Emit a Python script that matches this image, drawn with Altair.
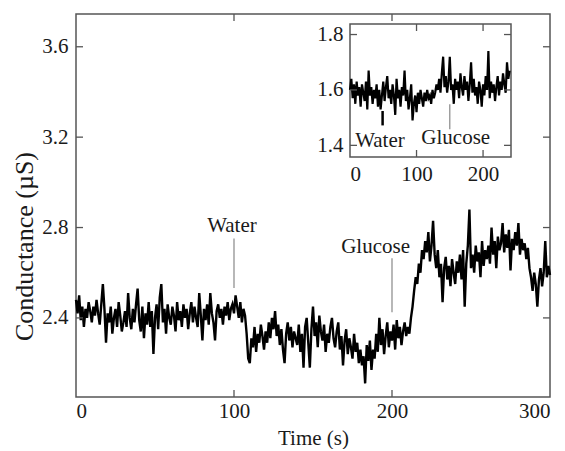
import altair as alt
import pandas as pd

# ---------------- data ----------------
main_cond = [
    2.48, 2.42, 2.50, 2.39, 2.45, 2.36, 2.44, 2.40, 2.47, 2.43,
    2.38, 2.45, 2.41, 2.48, 2.42, 2.37, 2.46, 2.55, 2.44, 2.29,
    2.42, 2.38, 2.45, 2.33, 2.40, 2.44, 2.36, 2.47, 2.41, 2.34,
    2.38, 2.43, 2.36, 2.51, 2.40, 2.35, 2.44, 2.38, 2.46, 2.53,
    2.39, 2.34, 2.45, 2.31, 2.42, 2.37, 2.47, 2.36, 2.43, 2.24,
    2.40, 2.46, 2.35, 2.49, 2.55, 2.38, 2.44, 2.33, 2.46, 2.40,
    2.37, 2.45, 2.41, 2.34, 2.47, 2.39, 2.43, 2.36, 2.46, 2.40,
    2.44, 2.35, 2.42, 2.47, 2.38, 2.45, 2.40, 2.36, 2.51, 2.41,
    2.30, 2.44, 2.39, 2.46, 2.37, 2.51, 2.42, 2.38, 2.30, 2.43,
    2.46, 2.40, 2.44, 2.37, 2.45, 2.41, 2.47, 2.39, 2.44, 2.46,
    2.42, 2.50, 2.45, 2.40, 2.47, 2.38, 2.44, 2.41, 2.33, 2.22,
    2.20, 2.31, 2.27, 2.36, 2.25, 2.33, 2.29, 2.37, 2.32, 2.26,
    2.34, 2.29, 2.38, 2.31, 2.40, 2.35, 2.43, 2.32, 2.37, 2.28,
    2.35, 2.26, 2.20, 2.33, 2.38, 2.30, 2.36, 2.27, 2.34, 2.31,
    2.28, 2.37, 2.25, 2.33, 2.18, 2.36, 2.40, 2.29, 2.18, 2.35,
    2.45, 2.32, 2.38, 2.27, 2.41, 2.34, 2.30, 2.37, 2.25, 2.33,
    2.29, 2.36, 2.40, 2.31, 2.27, 2.34, 2.38, 2.26, 2.32, 2.19,
    2.30, 2.35, 2.24, 2.31, 2.27, 2.22, 2.33, 2.25, 2.29, 2.20,
    2.26, 2.19, 2.23, 2.11, 2.28, 2.21, 2.30, 2.17, 2.26, 2.22,
    2.33, 2.25, 2.40, 2.28, 2.35, 2.24, 2.32, 2.38, 2.27, 2.34,
    2.30, 2.37, 2.26, 2.39, 2.31, 2.36, 2.28, 2.34, 2.38, 2.32,
    2.36, 2.33, 2.40, 2.45, 2.52, 2.58, 2.55, 2.64, 2.60, 2.70,
    2.66, 2.74, 2.69, 2.78, 2.65, 2.72, 2.83, 2.68, 2.62, 2.70,
    2.58, 2.64, 2.47, 2.62, 2.67, 2.57, 2.63, 2.54, 2.66, 2.60,
    2.55, 2.65, 2.60, 2.68, 2.57, 2.70, 2.45, 2.64, 2.72, 2.88,
    2.62, 2.68, 2.60, 2.72, 2.65, 2.69, 2.58, 2.74, 2.63, 2.70,
    2.66, 2.72, 2.64, 2.80, 2.68, 2.74, 2.62, 2.76, 2.70, 2.73,
    2.82, 2.69, 2.77, 2.71, 2.79, 2.61, 2.75, 2.70, 2.78, 2.72,
    2.82, 2.68, 2.75, 2.70, 2.73, 2.66, 2.71, 2.62, 2.58, 2.52,
    2.60, 2.55, 2.45, 2.57, 2.62, 2.54, 2.60, 2.74, 2.58, 2.63,
    2.59,
]
main_time = list(range(len(main_cond)))  # one reading per second

inset_cond = [
    1.60, 1.64, 1.57, 1.62, 1.55, 1.63, 1.58, 1.61, 1.54, 1.62,
    1.59, 1.56, 1.63, 1.53, 1.67, 1.58, 1.61, 1.55, 1.60, 1.57,
    1.62, 1.54, 1.60, 1.53, 1.58, 1.63, 1.56, 1.61, 1.65, 1.57,
    1.60, 1.55, 1.62, 1.58, 1.51, 1.64, 1.57, 1.60, 1.54, 1.61,
    1.58, 1.67, 1.56, 1.60, 1.53, 1.57, 1.62, 1.49, 1.55, 1.58,
    1.52, 1.59, 1.55, 1.60, 1.57, 1.54, 1.59, 1.56, 1.60, 1.57,
    1.58, 1.55, 1.60, 1.57, 1.59, 1.62, 1.60, 1.64, 1.59, 1.66,
    1.72, 1.61, 1.65, 1.59, 1.63, 1.72, 1.60, 1.62, 1.55, 1.64,
    1.60, 1.63, 1.57, 1.66, 1.61, 1.58, 1.65, 1.60, 1.63, 1.56,
    1.62, 1.70, 1.59, 1.64, 1.58, 1.61, 1.55, 1.63, 1.60, 1.54,
    1.62, 1.58, 1.65, 1.60, 1.74, 1.57, 1.63, 1.59, 1.62, 1.56,
    1.61, 1.65, 1.58, 1.63, 1.60, 1.66, 1.62, 1.59, 1.70, 1.64,
    1.67,
]
inset_time = [2 * i for i in range(len(inset_cond))]  # one reading per 2 s

main_x_domain = [0, 300]
main_y_domain = [2.05, 3.745]
main_x_ticks = [0, 100, 200, 300]
main_y_ticks = [2.4, 2.8, 3.2, 3.6]
main_x_inner_ticks = [100, 200]

inset_x_domain = [0, 242]
inset_y_domain = [1.358, 1.838]
inset_x_ticks = [0, 100, 200]
inset_y_ticks = [1.4, 1.6, 1.8]
inset_x_inner_ticks = [100, 200]

main_labels = ["Water", "Glucose"]
main_label_t = [98.7, 189.6]
main_label_v = [2.806, 2.713]
main_marker_t = [100, 200]
main_marker_top = [2.752, 2.664]
main_marker_bottom = [2.532, 2.425]

inset_labels = ["Water", "Glucose"]
inset_label_t = [45, 159]
inset_label_v = [1.415, 1.425]
inset_water_marker = [49, 1.524, 1.472]
inset_glucose_marker = [150, 1.548, 1.458]

# ---------------- layout constants ----------------
W, H = 474, 383
FONT = "Liberation Serif"
FS = 21
AX = "#555555"
TXT = "#1a1a1a"
TL = 7  # tick length

# inset pixel box inside the plot area
IX0, IX1 = 274, 435
IY0, IY1 = 10, 143

main_df = pd.DataFrame({"t": main_time, "v": main_cond})
inset_df = pd.DataFrame({"t": inset_time, "v": inset_cond})

xs = alt.Scale(domain=main_x_domain, nice=False, zero=False)
ys = alt.Scale(domain=main_y_domain, nice=False, zero=False)

axis_font = dict(labelFont=FONT, titleFont=FONT, labelFontSize=FS, titleFontSize=FS,
                 labelColor=TXT, titleColor=TXT, titleFontWeight="normal")

main_xaxis = alt.Axis(
    values=main_x_ticks, title="Time (s)", ticks=False, tickSize=0, domain=False,
    grid=False, labelPadding=3, titleY=41, titleBaseline="middle", format="d",
    **axis_font)
main_yaxis = alt.Axis(
    values=main_y_ticks, title="Conductance (\u00b5S)", ticks=False, tickSize=0,
    domain=False, grid=False, labelPadding=8, format=".1f",
    titleX=-52, titleY=232, titleAngle=270, titleAlign="center",
    titleBaseline="middle",
    labelFont=FONT, titleFont=FONT, labelFontSize=FS, titleFontSize=26,
    labelColor=TXT, titleColor=TXT, titleFontWeight="normal")


def MX(field):
    return alt.X(field, scale=xs, axis=main_xaxis)


def MY(field):
    return alt.Y(field, scale=ys, axis=main_yaxis)


mframe_df = pd.DataFrame({"x0": [main_x_domain[0]], "x1": [main_x_domain[1]],
                          "y0": [main_y_domain[0]], "y1": [main_y_domain[1]]})
main_frame = alt.Chart(mframe_df).mark_rect(fillOpacity=0, stroke=AX, strokeWidth=1.5).encode(
    x=MX("x0:Q"), x2="x1:Q", y=MY("y0:Q"), y2="y1:Q")

main_line = alt.Chart(main_df).mark_line(color="black", strokeWidth=2.4).encode(
    x=MX("t:Q"), y=MY("v:Q"))

mk_df = pd.DataFrame({"t": main_marker_t, "top": main_marker_top, "bot": main_marker_bottom})
main_markers = alt.Chart(mk_df).mark_rule(color="#888888", strokeWidth=1.2).encode(
    x=MX("t:Q"), y=MY("top:Q"), y2="bot:Q")

lb_df = pd.DataFrame({"t": main_label_t, "v": main_label_v, "label": main_labels})
main_text = alt.Chart(lb_df).mark_text(font=FONT, fontSize=FS, color=TXT,
                                       align="center", baseline="middle").encode(
    x=MX("t:Q"), y=MY("v:Q"), text="label:N")

xt_df = pd.DataFrame({"t": main_x_inner_ticks})
yt_df = pd.DataFrame({"v": main_y_ticks})
tick_style = dict(color=AX, strokeWidth=1.3)
main_ticks = [
    alt.Chart(xt_df).mark_rule(**tick_style).encode(
        x=MX("t:Q"), y=alt.value(H), y2=alt.value(H - TL)),
    alt.Chart(xt_df).mark_rule(**tick_style).encode(
        x=MX("t:Q"), y=alt.value(0), y2=alt.value(TL)),
    alt.Chart(yt_df).mark_rule(**tick_style).encode(
        y=MY("v:Q"), x=alt.value(0), x2=alt.value(TL)),
    alt.Chart(yt_df).mark_rule(**tick_style).encode(
        y=MY("v:Q"), x=alt.value(W), x2=alt.value(W - TL)),
]

main_layer = alt.layer(main_frame, main_line, main_markers, main_text, *main_ticks)

# ---------------- inset ----------------
ixs = alt.Scale(domain=inset_x_domain, range=[IX0, IX1], nice=False, zero=False)
iys = alt.Scale(domain=inset_y_domain, range=[IY1, IY0], nice=False, zero=False)

inset_xaxis = alt.Axis(
    orient="bottom", offset=-(H - IY1), values=inset_x_ticks, title=None,
    ticks=False, tickSize=0, domain=False, grid=False, labelPadding=6, format="d",
    zindex=2, **axis_font)
inset_yaxis = alt.Axis(
    orient="left", offset=-IX0, values=inset_y_ticks, title=None,
    ticks=False, tickSize=0, domain=False, grid=False, labelPadding=7, format=".1f",
    zindex=2, **axis_font)


def IX(field):
    return alt.X(field, scale=ixs, axis=inset_xaxis)


def IY(field):
    return alt.Y(field, scale=iys, axis=inset_yaxis)


frame_df = pd.DataFrame({"x0": [inset_x_domain[0]], "x1": [inset_x_domain[1]],
                         "y0": [inset_y_domain[0]], "y1": [inset_y_domain[1]]})
inset_frame = alt.Chart(frame_df).mark_rect(fill="white", stroke=AX, strokeWidth=1.5).encode(
    x=IX("x0:Q"), x2="x1:Q", y=IY("y0:Q"), y2="y1:Q")

inset_line = alt.Chart(inset_df).mark_line(color="black", strokeWidth=2.2).encode(
    x=IX("t:Q"), y=IY("v:Q"))

iw_df = pd.DataFrame({"t": [inset_water_marker[0]], "top": [inset_water_marker[1]],
                      "bot": [inset_water_marker[2]]})
ig_df = pd.DataFrame({"t": [inset_glucose_marker[0]], "top": [inset_glucose_marker[1]],
                      "bot": [inset_glucose_marker[2]]})
inset_water = alt.Chart(iw_df).mark_rule(color="black", strokeWidth=2.5).encode(
    x=IX("t:Q"), y=IY("top:Q"), y2="bot:Q")
inset_gluc = alt.Chart(ig_df).mark_rule(color="#888888", strokeWidth=1.2).encode(
    x=IX("t:Q"), y=IY("top:Q"), y2="bot:Q")

il_df = pd.DataFrame({"t": inset_label_t, "v": inset_label_v, "label": inset_labels})
inset_text = alt.Chart(il_df).mark_text(font=FONT, fontSize=FS, color=TXT,
                                        align="center", baseline="middle").encode(
    x=IX("t:Q"), y=IY("v:Q"), text="label:N")

ixt_df = pd.DataFrame({"t": inset_x_inner_ticks})
iyt_df = pd.DataFrame({"v": inset_y_ticks})
inset_ticks = [
    alt.Chart(ixt_df).mark_rule(**tick_style).encode(
        x=IX("t:Q"), y=alt.value(IY1), y2=alt.value(IY1 - TL)),
    alt.Chart(ixt_df).mark_rule(**tick_style).encode(
        x=IX("t:Q"), y=alt.value(IY0), y2=alt.value(IY0 + TL)),
    alt.Chart(iyt_df).mark_rule(**tick_style).encode(
        y=IY("v:Q"), x=alt.value(IX0), x2=alt.value(IX0 + TL)),
    alt.Chart(iyt_df).mark_rule(**tick_style).encode(
        y=IY("v:Q"), x=alt.value(IX1), x2=alt.value(IX1 - TL)),
]

inset_layer = alt.layer(inset_frame, inset_line, inset_water, inset_gluc, inset_text, *inset_ticks)

chart = (
    alt.layer(main_layer, inset_layer)
    .resolve_scale(x="independent", y="independent")
    .properties(width=W, height=H, autosize="none", background="white",
                padding={"left": 68, "top": 6, "right": 6, "bottom": 52})
    .configure_view(strokeWidth=0)
    .configure_axis(**axis_font)
)

chart.save("out.html", embed_options={"renderer": "svg", "actions": False})
